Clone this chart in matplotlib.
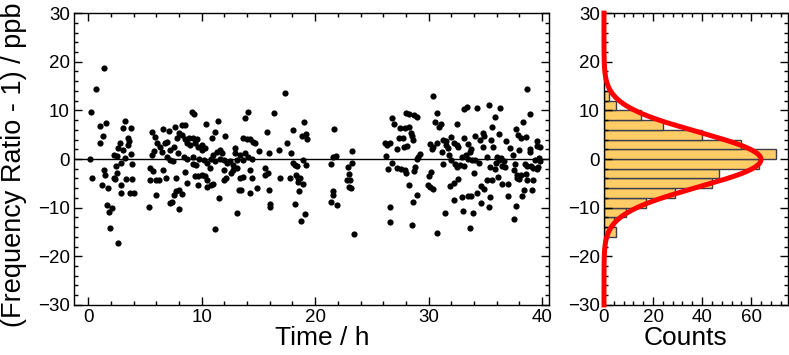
import numpy as np
import matplotlib
matplotlib.use("Agg")
import matplotlib.pyplot as plt
from matplotlib.ticker import MultipleLocator

plt.rcParams['font.family'] = ['Liberation Sans', 'DejaVu Sans']

time_a = [0.23, 0.18, 0.32, 1.35, 0.68, 1.0, 1.53, 1.29, 1.06, 1.35, 1.47, 1.26, 1.73, 1.64, 2.09,
          1.82, 1.88, 2.64, 3.2, 3.05, 3.76, 3.47, 3.58, 2.76, 3.11, 2.67, 3.55, 2.23, 2.53, 3.26,
          3.76, 2.88, 2.41, 2.58, 2.23, 2.4, 3.35, 3.9, 3.85, 2.85, 2.9, 3.7, 4.0, 5.6, 6.58,
          7.08, 5.9, 6.1, 6.34, 6.93, 6.8, 5.76, 5.6, 6.5, 7.2, 7.6, 6.93, 7.2, 7.5, 7.66,
          7.96, 7.8, 7.87, 5.46, 5.7, 5.46, 6.0, 6.2, 6.6, 6.87, 6.0, 5.37, 7.37, 7.52, 7.75,
          7.96, 7.2, 7.75, 8.0]
ratio_a = [9.7, 0.0, -4.0, 18.8, 14.3, 6.8, 7.5, 4.7, 3.4, -2.3, -3.3, -5.3, -6.0, -9.4, -10.0,
           -10.9, -14.2, -17.3, 7.8, 6.3, 6.3, 4.4, 3.8, 3.4, 1.8, 2.3, 2.9, 0.8, 0.6, 0.3,
           1.0, -0.9, -1.4, -2.8, -4.0, -4.2, -4.1, -4.1, -1.0, -5.3, -6.9, -7.0, -7.0, 5.6, 6.2,
           5.7, 4.6, 3.2, 2.4, 3.6, 3.4, 1.7, 0.8, 1.5, 1.8, 2.4, 0.5, -0.2, -0.5, 6.6,
           5.4, 4.4, 1.2, -1.9, -2.4, -4.4, -4.3, -4.4, -2.3, -3.8, -7.4, -9.8, -8.8, -7.4, -6.5,
           -6.4, -9.1, -4.0, -10.3]

time_b = [8.25, 8.55, 8.25, 8.55, 8.84, 8.7, 9.0, 9.22, 9.57, 9.4, 9.7, 10.0, 9.13, 9.34, 10.37,
          11.48, 11.19, 10.9, 10.3, 10.0, 8.4, 8.7, 9.2, 9.8, 10.16, 10.46, 10.81, 11.04, 11.34, 11.63,
          11.78, 11.57, 11.19, 11.93, 12.07, 12.2, 12.5, 12.8, 12.95, 12.95, 13.1, 13.4, 13.68, 13.83, 14.1,
          13.98, 14.27, 14.5, 14.7, 13.83, 14.1, 14.4, 13.68, 15.07, 15.9, 15.74, 16.4, 16.83, 17.35, 17.5,
          8.55, 8.7, 8.25, 9.22, 9.5, 9.4, 9.7, 10.0, 10.3, 10.5, 9.7, 10.45, 10.8, 11.04, 10.75,
          11.5, 11.19, 11.93, 12.16, 12.0, 12.6, 12.8, 13.1, 13.33, 13.5, 13.4, 13.68, 14.27, 14.4, 14.27,
          14.86, 13.1, 15.6, 15.8, 15.6, 15.9, 16.0, 16.0, 16.9]
ratio_b = [7.0, 7.0, 4.9, 4.2, 4.4, 3.2, 2.9, 4.4, 4.2, 3.2, 2.5, 2.9, 9.7, 9.2, 7.3,
           7.9, 5.6, 4.4, 2.2, 1.8, 0.5, 0.1, 0.5, 0.1, -0.2, -0.9, 0.1, 0.8, 1.5, 1.8,
           1.2, 0.1, -0.5, -0.2, 4.7, -0.9, -0.5, -1.2, 2.2, 1.2, -0.1, 0.8, 4.4, 8.4, 9.7,
           4.2, 4.2, 3.6, 3.2, 1.2, 0.5, 0.1, -0.2, 1.7, 1.2, 5.6, 9.5, 1.8, 13.5, 3.2,
           -2.6, -4.9, -7.1, -1.0, -1.2, -3.5, -3.5, -3.3, -3.5, -4.3, -5.3, -5.7, -5.3, -5.1, -1.9,
           -8.1, -14.4, -2.3, -4.0, -4.4, -2.9, -2.3, -1.9, -6.4, -6.4, -4.0, -3.6, -2.3, -4.0, -7.0,
           -6.0, -11.0, -1.9, -2.9, -3.3, -6.4, -9.2, -9.8, -4.0]

time_c = [18.03, 17.9, 18.03, 18.24, 18.4, 17.8, 18.3, 18.5, 18.68, 18.45, 18.9, 18.6, 18.24, 19.1, 18.77,
          19.03, 18.8, 19.2, 19.3, 18.9, 19.2, 21.7, 21.56, 21.8, 21.4, 21.56, 21.6, 21.4, 21.9, 23.2,
          23.2, 22.85, 23.0, 22.8, 23.1, 23.0, 23.15, 23.4, 26.17, 26.3, 26.26, 26.4]
ratio_c = [6.0, 1.2, -0.9, -1.2, -1.4, -4.0, -3.3, -3.8, -4.0, -4.7, -5.1, -6.5, -9.2, -11.2, -12.7,
           7.7, 4.7, 5.1, 4.2, -0.1, -1.2, 6.2, 0.5, 0.6, -1.0, -6.5, -7.3, -8.8, -9.4, 1.7,
           -0.8, -1.7, -3.1, -4.3, -4.4, -5.8, -5.9, -15.5, 3.2, 2.9, 0.6, -2.1]

time_d = [26.75, 26.96, 27.5, 26.6, 27.2, 27.35, 27.7, 27.8, 28.1, 26.8, 27.2, 27.6, 27.9, 28.0, 26.6,
          26.6, 28.0, 28.3, 28.7, 29.0, 27.9, 28.3, 28.4, 28.5, 28.6, 28.8, 28.7, 29.1, 29.2, 29.0,
          28.3, 29.0, 28.6, 28.5, 30.4, 30.7, 30.6, 30.9, 30.1, 30.4, 30.7, 30.3, 30.2, 30.0, 29.9,
          30.1, 30.4, 30.7]
ratio_d = [8.4, 7.3, 6.4, 3.2, 2.0, 4.4, 4.4, 2.4, 2.7, -0.9, -1.9, -2.1, -2.3, -2.8, -9.8,
           -12.9, 9.5, 9.2, 9.0, 8.7, 6.3, 6.6, 5.4, 4.7, 3.9, -1.7, -2.4, 0.5, 1.0, 0.1,
           -5.3, -7.4, -8.8, -13.6, 12.9, 9.4, 7.7, 6.6, 3.1, 2.5, 3.2, 2.0, -2.6, -3.5, -5.3,
           -5.7, -6.2, -15.3]

time_e = [31.07, 31.3, 31.5, 31.5, 31.2, 31.7, 31.8, 32.0, 31.25, 31.4, 31.9, 32.2, 32.6, 32.5, 32.0,
          32.2, 32.5, 32.6, 32.3, 32.5, 32.9, 32.8, 33.1, 32.9, 33.0, 33.1, 33.4, 33.1, 33.5, 33.7,
          33.6, 33.3, 33.5, 33.8, 33.96, 33.5, 33.7, 33.9, 33.6, 34.3, 34.1, 34.5, 34.8, 34.9, 34.8,
          34.1, 34.4, 34.3, 34.6, 34.9, 34.6, 35.3, 35.8, 35.6, 35.5, 35.7, 35.1, 35.4, 35.1, 35.4,
          35.3, 36.2, 36.0, 35.9, 35.8, 36.2, 36.1, 35.6, 36.3, 36.5, 36.4, 36.6, 36.7, 36.8, 36.5,
          37.0, 37.2, 37.0, 37.7, 37.9, 38.1, 38.3, 38.6, 38.7, 38.9, 38.0, 37.4, 37.6, 37.5, 37.8,
          38.0, 37.8, 38.1, 37.7, 37.5, 38.2, 38.4, 38.5, 38.7, 38.6, 38.7, 38.9, 39.1, 39.2, 39.0,
          39.2, 39.5, 39.5, 39.8, 39.4, 39.7, 39.8, 39.5, 39.6, 38.9, 32.2]
ratio_e = [7.2, 4.0, 3.7, 2.9, 1.5, 2.2, 0.8, -0.1, -1.1, -11.0, -5.5, -4.9, -4.2, 7.3, 4.6,
           3.2, 2.9, 2.4, -1.0, -1.7, 0.5, -1.2, -1.4, -7.9, -10.6, 10.2, 10.6, 4.4, 3.1, 2.0,
           1.5, 0.8, 0.1, -0.2, -2.9, -7.6, -7.6, -11.0, -14.1, 10.4, 4.7, 4.0, 5.4, 4.7, 2.4,
           -0.3, -0.8, -6.9, -5.5, -6.2, -9.1, 11.1, 8.6, 6.6, 4.0, 2.4, 0.5, -1.6, -4.4, -7.9,
           -9.8, 5.1, 0.5, -0.9, -2.1, -0.2, -3.6, -4.4, 10.4, -5.1, 0.3, -0.5, -1.7, 3.8, -1.4,
           -5.1, 2.2, -7.7, 6.1, 4.9, 4.4, 7.7, 4.6, 14.5, 9.2, 1.8, 0.8, -1.0, -2.3, -3.3,
           -4.2, -3.8, -3.3, -9.7, -12.4, -7.7, -6.4, -1.0, -1.4, -3.1, -4.4, 2.0, -6.4, -4.4, -1.4,
           -1.9, 3.8, 2.7, 2.4, -0.1, 0.3, -0.5, -2.1, -1.6, 1.5, -8.4]

# histogram of the ratio (2 ppb bins) and the gaussian fit drawn over it
bin_lower = [-16, -14, -12, -10, -8, -6, -4, -2, 0, 2, 4, 6, 8, 10, 12]
bin_counts = [5, 4, 9, 17, 29, 44, 47, 63, 70, 56, 40, 24, 15, 5, 2]
fit_amp, fit_mean, fit_sigma = 64.0, -0.1, 5.6

time_h = np.concatenate([time_a, time_b, time_c, time_d, time_e])
ratio = np.concatenate([ratio_a, ratio_b, ratio_c, ratio_d, ratio_e])
assert len(time_h) == len(ratio)

fig = plt.figure(figsize=(7.89, 3.55), dpi=100)
ax = fig.add_axes([0.0938, 0.141, 0.602, 0.822])
axh = fig.add_axes([0.7655, 0.141, 0.2332, 0.822])

ax.axhline(0, color="k", linewidth=1.0, zorder=1)
ax.scatter(time_h, ratio, s=20, color="k", linewidths=0, zorder=2)
ax.set_xlim(-1.25, 40.6)
ax.set_ylim(-30, 30)
ax.xaxis.set_major_locator(MultipleLocator(10))
ax.xaxis.set_minor_locator(MultipleLocator(2))
ax.yaxis.set_major_locator(MultipleLocator(10))
ax.yaxis.set_minor_locator(MultipleLocator(2))
ax.set_xlabel("Time / h", fontsize=19)
ax.set_ylabel("(Frequency Ratio - 1) / ppb", fontsize=19.5)
ax.xaxis.set_label_coords(0.523, -0.072)
ax.yaxis.set_label_coords(-0.098, 0.48)

axh.barh(bin_lower, bin_counts, height=2, align="edge",
         color="#FFCC66", edgecolor="#3c3c4c", linewidth=1.0, zorder=1)
yy = np.linspace(-30, 30, 600)
axh.plot(fit_amp * np.exp(-0.5 * ((yy - fit_mean) / fit_sigma) ** 2), yy,
         color="#FF0000", linewidth=3.6, zorder=3, clip_on=False)
axh.set_xlim(0, 75)
axh.set_ylim(-30, 30)
axh.xaxis.set_major_locator(MultipleLocator(20))
axh.xaxis.set_minor_locator(MultipleLocator(4))
axh.yaxis.set_major_locator(MultipleLocator(10))
axh.yaxis.set_minor_locator(MultipleLocator(2))
axh.set_xlabel("Counts", fontsize=19)
axh.xaxis.set_label_coords(0.443, -0.072)

for a in (ax, axh):
    a.tick_params(which="both", direction="in", top=True, right=True, labelsize=13.5, pad=3)
    a.tick_params(which="major", length=6, width=1)
    a.tick_params(which="minor", length=3, width=1)
    for s in a.spines.values():
        s.set_linewidth(1.0)

fig.savefig("out.png", dpi=100)
